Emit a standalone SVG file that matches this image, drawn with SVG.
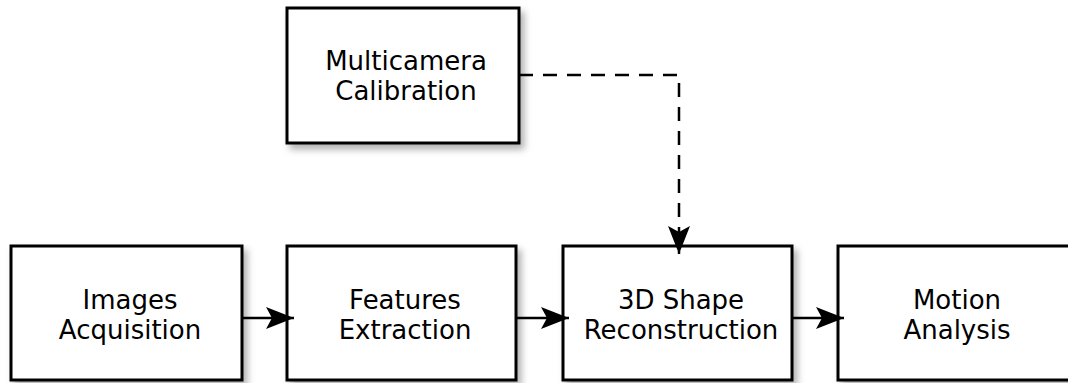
<svg xmlns="http://www.w3.org/2000/svg" width="1068" height="383" viewBox="0 0 1068 383">
<style>
.box{fill:#fff;stroke:#000;stroke-width:3;filter:url(#sh)}
.lbl{font-family:"DejaVu Sans",sans-serif;font-size:26px;fill:#000;text-anchor:middle}
.con{fill:none;stroke:#000;stroke-width:2.5}
</style>
<defs>
<filter id="sh" x="-10%" y="-10%" width="130%" height="140%">
<feDropShadow dx="4" dy="5" stdDeviation="3.5" flood-color="#000" flood-opacity="0.3"/>
</filter>
<marker id="ah" viewBox="0 0 28 22" refX="28" refY="11" markerWidth="28" markerHeight="22" markerUnits="userSpaceOnUse" orient="auto">
<path d="M0,0 L28,11 L0,22 L6,11 Z" fill="#000"/>
</marker>
</defs>
<g id="multicamera">
<rect class="box" x="287" y="8" width="232" height="135"/>
<text class="lbl" x="406" y="70">Multicamera</text>
<text class="lbl" x="406" y="100">Calibration</text>
</g>
<g id="images">
<rect class="box" x="11" y="246" width="231" height="134"/>
<text class="lbl" x="130" y="309">Images</text>
<text class="lbl" x="130" y="339">Acquisition</text>
</g>
<g id="features">
<rect class="box" x="287" y="246" width="229" height="134"/>
<text class="lbl" x="405" y="309">Features</text>
<text class="lbl" x="405" y="339">Extraction</text>
</g>
<g id="reconstruction">
<rect class="box" x="563" y="246" width="229" height="134"/>
<text class="lbl" x="681" y="309">3D Shape</text>
<text class="lbl" x="681" y="339">Reconstruction</text>
</g>
<g id="motion">
<rect class="box" x="838" y="246" width="240" height="134"/>
<text class="lbl" x="957" y="309">Motion</text>
<text class="lbl" x="957" y="339">Analysis</text>
</g>
<g id="connectors">
<path class="con" d="M242,318 L294,318" marker-end="url(#ah)"/>
<path class="con" d="M516,318 L569,318" marker-end="url(#ah)"/>
<path class="con" d="M792,318 L844,318" marker-end="url(#ah)"/>
<path class="con" d="M519,75 L679,75 L679,254" stroke-dasharray="14,10" marker-end="url(#ah)"/>
</g>
</svg>
